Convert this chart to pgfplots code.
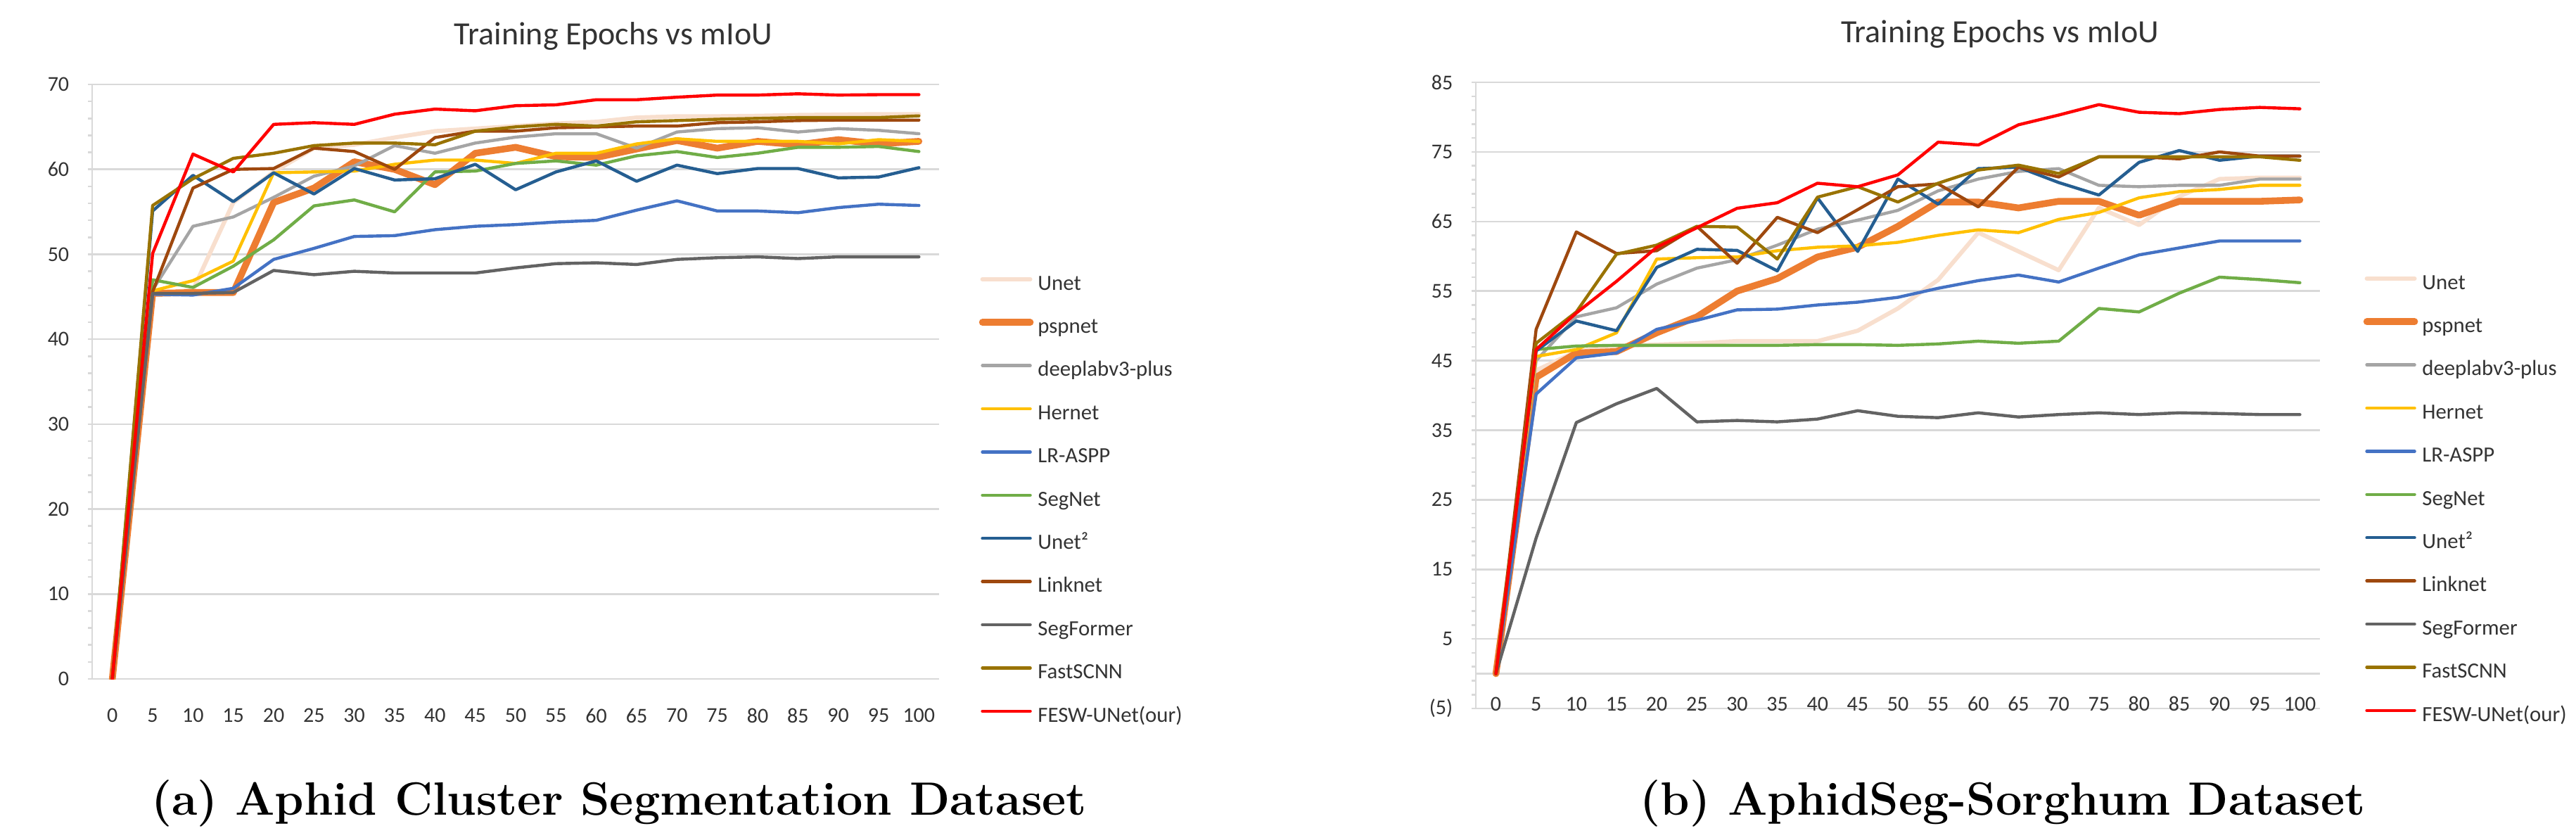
\documentclass[border=0pt]{standalone}
\usepackage{fontspec}
\setmainfont{Carlito}
\newfontfamily\capfont{Latin Modern Roman}
\usepackage{pgfplots}
\usepackage{pgfplotstable}
\pgfplotsset{compat=1.18}

\definecolor{cUnet}{HTML}{F8DFCE}
\definecolor{cPsp}{HTML}{ED7D31}
\definecolor{cDeep}{HTML}{A5A5A5}
\definecolor{cHer}{HTML}{FFC000}
\definecolor{cLr}{HTML}{4472C4}
\definecolor{cSeg}{HTML}{70AD47}
\definecolor{cUtwo}{HTML}{255E91}
\definecolor{cLink}{HTML}{9E480E}
\definecolor{cSF}{HTML}{636363}
\definecolor{cFast}{HTML}{997300}
\definecolor{cFesw}{HTML}{FF0000}
\definecolor{gridc}{HTML}{D9D9D9}
\definecolor{txtc}{HTML}{333333}

% Aphid Cluster Segmentation Dataset
\pgfplotstableread{
ep unet psp deep her lr seg utwo link sf fast fesw
0 0 0 0 0 0 0 0 0 0 0 0
5 45.3 45.4 45.8 45.7 45.3 47.0 55.1 45.6 45.4 55.75 50.1
10 45.8 45.5 53.3 46.9 45.2 46.1 59.3 57.8 45.4 58.9 61.8
15 56.1 45.5 54.4 49.2 46.0 48.6 56.2 60.0 45.5 61.3 59.7
20 59.7 56.1 56.7 59.6 49.4 51.7 59.6 60.1 48.1 61.9 65.3
25 62.5 57.8 59.2 59.7 50.7 55.7 57.1 62.5 47.6 62.8 65.5
30 62.9 60.9 60.4 59.8 52.1 56.4 60.1 62.1 48.0 63.1 65.3
35 63.75 60.0 62.8 60.6 52.2 55.0 58.75 60.0 47.8 63.1 66.5
40 64.5 58.2 61.9 61.1 52.9 59.7 58.9 63.75 47.8 62.9 67.1
45 64.8 61.9 63.1 61.1 53.3 59.8 60.6 64.5 47.8 64.5 66.9
50 65.1 62.6 63.8 60.7 53.5 60.7 57.6 64.5 48.4 65.0 67.5
55 65.4 61.5 64.2 61.9 53.8 61.0 59.7 64.9 48.9 65.3 67.6
60 65.6 61.4 64.2 61.9 54.0 60.5 61.0 65.0 49.0 65.1 68.2
65 66.1 62.4 62.5 63.0 55.2 61.6 58.6 65.1 48.8 65.6 68.2
70 66.25 63.4 64.4 63.6 56.3 62.1 60.5 65.1 49.4 65.75 68.5
75 66.25 62.5 64.8 63.3 55.1 61.4 59.5 65.5 49.6 65.9 68.75
80 66.3 63.3 64.9 63.3 55.1 61.9 60.1 65.6 49.7 66.0 68.75
85 66.4 62.9 64.4 63.3 54.9 62.6 60.1 65.75 49.5 66.1 68.9
90 66.45 63.5 64.8 63.0 55.5 62.6 59.0 65.8 49.7 66.1 68.75
95 66.5 63.0 64.6 63.5 55.9 62.7 59.1 65.8 49.7 66.1 68.8
100 66.5 63.3 64.2 63.3 55.75 62.1 60.2 65.8 49.7 66.3 68.8
}\dataA

% AphidSeg-Sorghum Dataset
\pgfplotstableread{
ep unet psp deep her lr seg utwo link sf fast fesw
0 0 0 0 0 0 0 0 0 0 0 0
5 43.6 42.6 45.0 45.6 40.2 46.6 46.4 49.5 19.5 47.5 46.6
10 46.3 46.1 51.3 46.6 45.4 47.1 50.7 63.5 36.1 52.0 51.85
15 47.1 46.3 52.6 49.0 46.1 47.2 49.3 60.4 38.8 60.3 56.4
20 47.3 49.0 56.0 59.6 49.5 47.2 58.4 60.8 41.0 61.6 61.3
25 47.5 51.3 58.3 59.8 50.8 47.2 61.0 64.3 36.2 64.3 64.1
30 47.8 55.0 59.5 59.9 52.3 47.2 60.85 59.0 36.4 64.2 66.9
35 47.8 56.8 61.6 60.8 52.4 47.2 57.9 65.6 36.2 59.6 67.7
40 47.8 59.9 63.9 61.3 53.0 47.3 68.4 63.4 36.6 68.5 70.5
45 49.3 61.3 65.2 61.5 53.4 47.3 60.7 66.7 37.8 70.0 70.0
50 52.5 64.3 66.6 62.0 54.1 47.2 71.1 70.0 37.0 67.8 71.7
55 56.6 67.8 69.4 63.0 55.4 47.4 67.5 70.4 36.8 70.5 76.4
60 63.4 67.8 71.1 63.8 56.5 47.8 72.6 67.1 37.5 72.4 76.0
65 60.7 66.95 72.2 63.4 57.3 47.5 72.8 72.8 36.9 73.1 78.9
70 58.0 67.9 72.6 65.3 56.3 47.8 70.6 71.4 37.25 71.9 80.3
75 66.95 67.9 70.2 66.3 58.3 52.5 68.8 74.3 37.5 74.3 81.8
80 64.5 65.9 70.0 68.4 60.2 52.0 73.5 74.3 37.25 74.3 80.7
85 68.6 67.9 70.2 69.3 61.2 54.7 75.2 74.0 37.5 74.3 80.5
90 71.1 67.9 70.2 69.6 62.2 57.0 73.8 75.0 37.4 74.3 81.1
95 71.3 67.9 71.1 70.2 62.2 56.65 74.4 74.4 37.25 74.3 81.4
100 71.3 68.1 71.1 70.2 62.2 56.2 74.4 74.4 37.25 73.8 81.2
}\dataB

\newcommand{\allseries}[1]{%
  \addplot[cUnet, line width=1.5pt] table[x=ep,y=unet]{#1}; \addlegendentry{Unet}
  \addplot[cPsp, line width=2.4pt] table[x=ep,y=psp]{#1}; \addlegendentry{pspnet}
  \addplot[cDeep] table[x=ep,y=deep]{#1}; \addlegendentry{deeplabv3-plus}
  \addplot[cHer] table[x=ep,y=her]{#1}; \addlegendentry{Hernet}
  \addplot[cLr] table[x=ep,y=lr]{#1}; \addlegendentry{LR-ASPP}
  \addplot[cSeg] table[x=ep,y=seg]{#1}; \addlegendentry{SegNet}
  \addplot[cUtwo] table[x=ep,y=utwo]{#1}; \addlegendentry{Unet²}
  \addplot[cLink] table[x=ep,y=link]{#1}; \addlegendentry{Linknet}
  \addplot[cSF] table[x=ep,y=sf]{#1}; \addlegendentry{SegFormer}
  \addplot[cFast] table[x=ep,y=fast]{#1}; \addlegendentry{FastSCNN}
  \addplot[cFesw] table[x=ep,y=fesw]{#1}; \addlegendentry{FESW-UNet(our)}
}

\pgfplotsset{
  excelchart/.style={
    scale only axis,
    anchor=south west,
    xmin=-2.5, xmax=102.5,
    xtick={0,5,...,100},
    axis lines=left,
    axis line style={gridc, line width=0.65pt, -},
    ymajorgrids,
    major grid style={gridc, line width=0.65pt},
    tick align=outside,
    major tick length=1.5pt, minor tick length=1.5pt,
    minor y tick num=4,
    tick style={gridc, line width=0.65pt},
    xtick style={draw=none},
    tick label style={font=\fontsize{7.5}{9}\selectfont, text=txtc},
    /pgf/number format/assume math mode=true,
    yticklabel style={inner sep=0pt, xshift=-6.5pt},
    no markers,
    every axis plot/.append style={line width=1.1pt, line join=round, line cap=round},
    title={Training Epochs vs mIoU},
    every axis title/.style={at={(0.5,1)}, anchor=base, font=\fontsize{11.5}{13}\selectfont, text=txtc},
    legend cell align=left,
    legend style={anchor=north west, draw=none, fill=none, inner sep=0pt,
      row sep=8.35pt, font=\fontsize{7.7}{9}\selectfont, text=txtc,
      nodes={inner sep=0pt, text height=5pt, text depth=2pt}},
    legend image code/.code={\draw[##1] (0pt,2.3pt) -- (17pt,2.3pt); \path (18.5pt,0pt);},
  },
}

\begin{document}
\begin{tikzpicture}
\useasboundingbox (0,0) rectangle (915.5pt,295.75pt);

\begin{axis}[excelchart,
  at={(32.75pt,54.5pt)}, width=301pt, height=211.25pt,
  ymin=0, ymax=70, ytick={0,10,...,70},
  xticklabel style={anchor=north, inner sep=0pt, yshift=-8.75pt},
  title style={at={(0.6155,1.0675)}},
  legend style={at={(1.0465,0.679)}},
]
\allseries{\dataA}
\end{axis}

\begin{axis}[excelchart,
  at={(524.5pt,44pt)}, width=300pt, height=222.5pt,
  ymin=-5, ymax=85, ytick={-5,5,...,85},
  yticklabels={(5),5,15,25,35,45,55,65,75,85},
  extra y ticks={0}, extra y tick labels={},
  extra y tick style={grid=major, major tick length=0pt},
  xticklabel style={anchor=south, inner sep=0pt, yshift=0.3pt},
  title style={at={(0.621,1.063)}},
  legend style={at={(1.0508,0.693)}},
]
\allseries{\dataB}
\end{axis}

\node[anchor=base, font=\capfont\bfseries\fontsize{16.6}{20}\selectfont] at (220pt,6.25pt) {(a) Aphid Cluster Segmentation Dataset};
\node[anchor=base, font=\capfont\bfseries\fontsize{16.6}{20}\selectfont] at (711.75pt,6.25pt) {(b) AphidSeg-Sorghum Dataset};
\end{tikzpicture}
\end{document}
